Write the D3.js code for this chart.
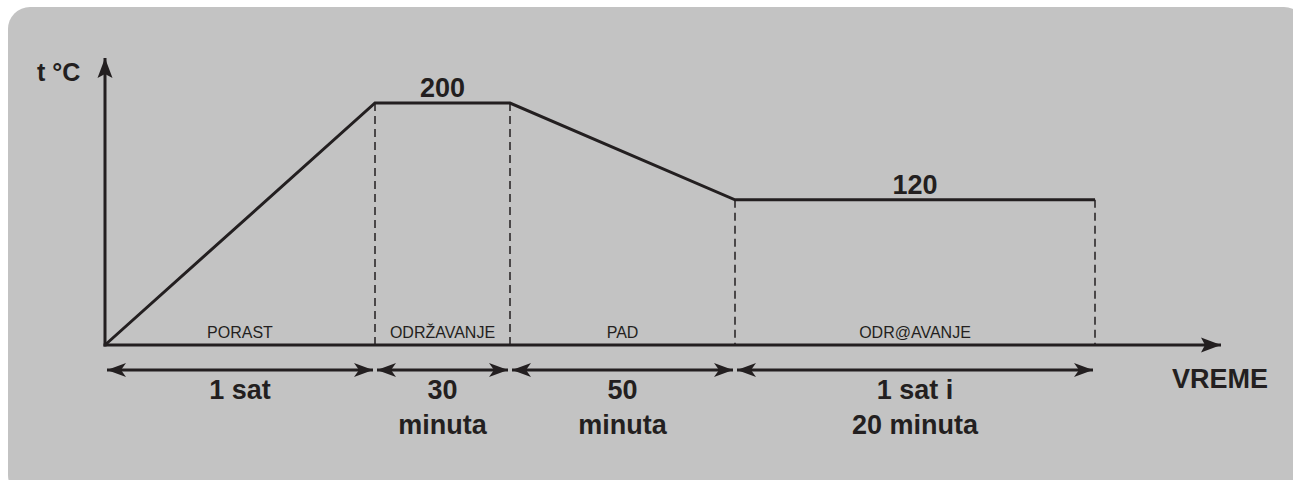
<!DOCTYPE html>
<html>
<head>
<meta charset="utf-8">
<script src="https://cdn.jsdelivr.net/npm/d3@7"></script>
<style>
  body { margin: 0; background: #ffffff; }
  text { font-family: "Liberation Sans", Arial, sans-serif; fill: #231f20; }
</style>
</head>
<body>
<div id="chart"></div>
<script>
// data: heating profile
var phases = ["PORAST", "ODRŽAVANJE", "PAD", "ODR@AVANJE"];
var durations = [60, 30, 50, 80];          // minutes per phase
var temps = [0, 200, 200, 120, 120];       // temperature at each breakpoint
var durationLabels = [["1 sat"], ["30", "minuta"], ["50", "minuta"], ["1 sat i", "20 minuta"]];
var holdLabels = [{ phase: 1, text: "200" }, { phase: 3, text: "120" }];

var svgWidth = 1293;
var svgHeight = 480;
var ink = "#231f20";

// breakpoints in minutes
var times = [0].concat(Array.from(d3.cumsum(durations)));
var points = times.map(function(t, i) { return { t: t, temp: temps[i] }; });

var svg = d3.select("#chart")
  .append("svg")
  .attr("width", svgWidth)
  .attr("height", svgHeight);

// grey panel
svg.append("rect")
  .attr("x", 8).attr("y", 7)
  .attr("width", 1298).attr("height", 490)
  .attr("rx", 22).attr("ry", 22)
  .attr("fill", "#c3c3c3");

// scales
var x = d3.scaleLinear().domain([0, d3.sum(durations)]).range([105, 1095]);
var y = d3.scaleLinear().domain([0, 200]).range([345, 103]);

// arrowheads
var defs = svg.append("defs");
defs.append("marker")
  .attr("id", "axisHead")
  .attr("viewBox", "-20 -8 22 16")
  .attr("refX", 0).attr("refY", 0)
  .attr("markerWidth", 22).attr("markerHeight", 16)
  .attr("markerUnits", "userSpaceOnUse")
  .attr("orient", "auto")
  .append("path")
  .attr("d", "M0,0 L-20,-7.5 L-16,0 L-20,7.5 Z")
  .attr("fill", ink);

defs.append("marker")
  .attr("id", "spanHead")
  .attr("viewBox", "-20 -8 22 16")
  .attr("refX", 0).attr("refY", 0)
  .attr("markerWidth", 22).attr("markerHeight", 16)
  .attr("markerUnits", "userSpaceOnUse")
  .attr("orient", "auto-start-reverse")
  .append("path")
  .attr("d", "M0,0 L-19,-7 L-14,0 L-19,7 Z")
  .attr("fill", ink);

// dashed guides from each breakpoint down to the time axis
svg.selectAll(".guide")
  .data(points.slice(1))
  .enter()
  .append("line")
  .attr("class", "guide")
  .attr("x1", function(d) { return x(d.t); })
  .attr("x2", function(d) { return x(d.t); })
  .attr("y1", function(d) { return y(d.temp); })
  .attr("y2", y(0))
  .attr("stroke", ink)
  .attr("stroke-width", 1.5)
  .attr("stroke-dasharray", "8,5");

// axes
svg.append("line")
  .attr("x1", x(0) - 1.5).attr("y1", y(0))
  .attr("x2", 1221).attr("y2", y(0))
  .attr("stroke", ink).attr("stroke-width", 3)
  .attr("marker-end", "url(#axisHead)");

svg.append("line")
  .attr("x1", x(0)).attr("y1", y(0) + 1.5)
  .attr("x2", x(0)).attr("y2", 58)
  .attr("stroke", ink).attr("stroke-width", 3)
  .attr("marker-end", "url(#axisHead)");

// temperature profile
var line = d3.line()
  .x(function(d) { return x(d.t); })
  .y(function(d) { return y(d.temp); });

svg.append("path")
  .attr("d", line(points))
  .attr("fill", "none")
  .attr("stroke", ink)
  .attr("stroke-width", 3)
  .attr("stroke-linejoin", "miter");

// phase names just above the time axis
svg.selectAll(".phase")
  .data(phases)
  .enter()
  .append("text")
  .attr("class", "phase")
  .attr("x", function(d, i) { return (x(times[i]) + x(times[i + 1])) / 2; })
  .attr("y", y(0) - 7)
  .attr("text-anchor", "middle")
  .style("font-size", "16px")
  .text(function(d) { return d; });

// hold temperature labels
svg.selectAll(".hold")
  .data(holdLabels)
  .enter()
  .append("text")
  .attr("class", "hold")
  .attr("x", function(d) { return (x(times[d.phase]) + x(times[d.phase + 1])) / 2; })
  .attr("y", function(d) { return y(temps[d.phase]) - 6; })
  .attr("text-anchor", "middle")
  .style("font-size", "27px")
  .style("font-weight", "bold")
  .text(function(d) { return d.text; });

// duration spans
svg.selectAll(".span")
  .data(durations)
  .enter()
  .append("line")
  .attr("class", "span")
  .attr("x1", function(d, i) { return x(times[i]) + 2; })
  .attr("x2", function(d, i) { return x(times[i + 1]) - 2; })
  .attr("y1", 370).attr("y2", 370)
  .attr("stroke", ink).attr("stroke-width", 3)
  .attr("marker-start", "url(#spanHead)")
  .attr("marker-end", "url(#spanHead)");

var durText = svg.selectAll(".dur")
  .data(durationLabels)
  .enter()
  .append("text")
  .attr("class", "dur")
  .attr("text-anchor", "middle")
  .style("font-size", "27px")
  .style("font-weight", "bold");

durText.selectAll("tspan")
  .data(function(d, i) { return d.map(function(s) { return { s: s, i: i }; }); })
  .enter()
  .append("tspan")
  .attr("x", function(d) { return (x(times[d.i]) + x(times[d.i + 1])) / 2; })
  .attr("y", function(d, j) { return 399 + j * 35; })
  .text(function(d) { return d.s; });

// axis titles
svg.append("text")
  .attr("x", 37).attr("y", 81)
  .style("font-size", "25px")
  .style("font-weight", "bold")
  .text("t °C");

svg.append("text")
  .attr("x", 1172).attr("y", 388)
  .style("font-size", "27px")
  .style("font-weight", "bold")
  .text("VREME");
</script>
</body>
</html>
